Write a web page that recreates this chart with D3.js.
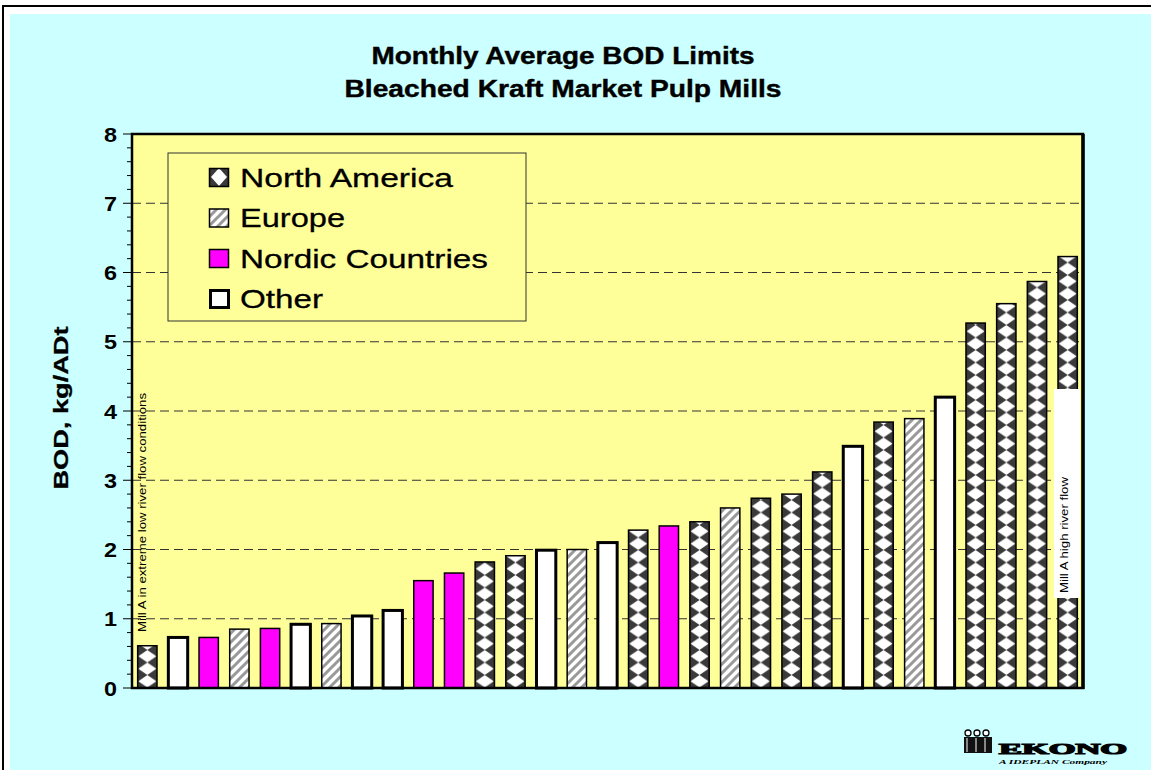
<!DOCTYPE html>
<html><head><meta charset="utf-8">
<script src="https://cdn.jsdelivr.net/npm/d3@7"></script>
<style>body{margin:0;background:#fff;}svg{display:block;font-family:"Liberation Sans",Arial,sans-serif;}</style>
</head><body>
<script>
// ---- data ----
const mills = ["M1","M2","M3","M4","M5","M6","M7","M8","M9","M10","M11","M12","M13","M14","M15","M16","M17","M18","M19","M20","M21","M22","M23","M24","M25","M26","M27","M28","M29","M30","M31"];
const regions = ["NA","Other","Nordic","Europe","Nordic","Other","Europe","Other","Other","Nordic","Nordic","NA","NA","Other","Europe","Other","NA","Nordic","NA","Europe","NA","NA","NA","Other","NA","Europe","Other","NA","NA","NA","NA"];
const bodValues = [0.61,0.73,0.73,0.85,0.86,0.92,0.93,1.04,1.12,1.55,1.66,1.82,1.91,1.99,2.00,2.10,2.28,2.34,2.40,2.60,2.74,2.80,3.12,3.49,3.84,3.89,4.20,5.27,5.55,5.87,6.23];
const legendKeys = ["NA","Europe","Nordic","Other"];
const legendLabels = ["North America","Europe","Nordic Countries","Other"];
const yTicks = [0,1,2,3,4,5,6,7,8];
const titleLines = ["Monthly Average BOD Limits","Bleached Kraft Market Pulp Mills"];
const yTitle = "BOD, kg/ADt";
const noteLow = "Mill A in extreme low river flow conditions";
const noteHigh = "Mill A high river flow";

const W = 1151, H = 770;
const svg = d3.select("body").append("svg").attr("width", W).attr("height", H);
const defs = svg.append("defs");

// background
svg.append("rect").attr("x",0).attr("y",0).attr("width",W).attr("height",H).attr("fill","#fff");
svg.append("rect").attr("x",3).attr("y",6).attr("width",1300).attr("height",1000).attr("fill","#fff").attr("stroke","#000").attr("stroke-width",2);
svg.append("rect").attr("x",10).attr("y",14).attr("width",1300).attr("height",1000).attr("fill","#CCFFFF");

// scales
const x = d3.scaleBand().domain(mills).range([132,1083]).paddingInner(0.37).paddingOuter(0.185);
const y = d3.scaleLinear().domain([0,8]).range([688,134]);
const bw = x.bandwidth(), step = x.step();

// plot area
svg.append("rect").attr("x",132).attr("y",134).attr("width",951).attr("height",554).attr("fill","#FFFF99");

// patterns
function naPattern(id, px, py, w, h, dw){
  const p = defs.append("pattern").attr("id",id).attr("patternUnits","userSpaceOnUse")
    .attr("x",px).attr("y",py).attr("width",w).attr("height",h);
  p.append("rect").attr("width",w).attr("height",h).attr("fill","#3a3a3a");
  const cx = w/2, dh = h/2;
  p.append("path").attr("d",`M${cx},0 L${cx+dw},${dh} L${cx},${h} L${cx-dw},${dh} Z`).attr("fill","#fff");
}
naPattern("naBar", x(mills[0]) + bw/2 - step/2, 0, step, 12.5, 9);
naPattern("naLeg", 209, 168, 20, 18, 8);

function euPattern(id, px, py){
  const p = defs.append("pattern").attr("id",id).attr("patternUnits","userSpaceOnUse")
    .attr("x",px).attr("y",py).attr("width",9).attr("height",9);
  p.append("rect").attr("width",9).attr("height",9).attr("fill","#fff");
  p.append("path").attr("d","M-2,11 L11,-2 M-2,2 L2,-2 M7,11 L11,7").attr("stroke","#999").attr("stroke-width",3);
}
euPattern("euBar",0,0);
euPattern("euLeg",209,208);

const fillOf = {NA:"url(#naBar)", Europe:"url(#euBar)", Nordic:"#FF00FF", Other:"#fff"};
const legFill = {NA:"url(#naLeg)", Europe:"url(#euLeg)", Nordic:"#FF00FF", Other:"#fff"};
const strokeW = {NA:1.5, Europe:1.5, Nordic:1.5, Other:3};

// gridlines
svg.append("g").selectAll("line").data(yTicks.filter(t=>t>0 && t<8)).join("line")
  .attr("x1",132).attr("x2",1083).attr("y1",d=>y(d)).attr("y2",d=>y(d))
  .attr("stroke","#333").attr("stroke-width",1).attr("stroke-dasharray","9,5");

// legend
const leg = svg.append("g");
leg.append("rect").attr("x",168).attr("y",153).attr("width",358).attr("height",168)
  .attr("fill","#FFFF99").attr("stroke","#333").attr("stroke-width",1);
const legTL = [213,105,248,83];
legendKeys.forEach((k,i)=>{
  const top = 168 + i*40.5;
  leg.append("rect").attr("x",k==="Other"?210.5:209.5).attr("y",k==="Other"?top+1:top+0.5)
    .attr("width",k==="Other"?18:19).attr("height",k==="Other"?17:18)
    .attr("fill",legFill[k]).attr("stroke","#000").attr("stroke-width",strokeW[k]);
  leg.append("text").attr("x",240).attr("y",top+18.5).attr("font-size",26.5)
    .attr("stroke","#000").attr("stroke-width",0.3)
    .attr("textLength",legTL[i]).attr("lengthAdjust","spacingAndGlyphs")
    .text(legendLabels[i]);
});

// bars
svg.append("g").selectAll("rect").data(bodValues).join("rect")
  .attr("x",(d,i)=>x(mills[i]))
  .attr("y",d=>y(d))
  .attr("width",bw)
  .attr("height",d=>y(0)-y(d))
  .attr("fill",(d,i)=>fillOf[regions[i]])
  .attr("stroke","#000")
  .attr("stroke-width",(d,i)=>strokeW[regions[i]]);

// plot border
svg.append("rect").attr("x",132).attr("y",134).attr("width",951).attr("height",554)
  .attr("fill","none").attr("stroke","#000").attr("stroke-width",2.5);
svg.append("line").attr("x1",1083).attr("x2",1083).attr("y1",134).attr("y2",689).attr("stroke","#000").attr("stroke-width",3.5);
// y axis ticks
const minor = d3.range(0,40).map(i=>i/5).filter(v=>!Number.isInteger(v));
svg.append("g").selectAll("line").data(minor).join("line")
  .attr("x1",127).attr("x2",132).attr("y1",d=>y(d)).attr("y2",d=>y(d)).attr("stroke","#000").attr("stroke-width",1);
svg.append("g").selectAll("line").data(yTicks).join("line")
  .attr("x1",123).attr("x2",132).attr("y1",d=>y(d)).attr("y2",d=>y(d)).attr("stroke","#000").attr("stroke-width",1);
svg.append("g").selectAll("text").data(yTicks).join("text")
  .attr("x",117).attr("y",d=>y(d)+7.5).attr("text-anchor","end")
  .attr("font-size",20).attr("font-weight","bold")
  .attr("textLength",13).attr("lengthAdjust","spacingAndGlyphs")
  .text(d=>d);

// y title
svg.append("text").attr("transform","translate(68,408) rotate(-90)")
  .attr("text-anchor","middle").attr("font-size",21).attr("font-weight","bold")
  .attr("stroke","#000").attr("stroke-width",0.3)
  .attr("textLength",163).attr("lengthAdjust","spacingAndGlyphs")
  .text(yTitle);

// title
[[64,383],[97,437]].forEach(([by,tl],i)=>{
  svg.append("text").attr("x",563 - tl/2).attr("y",by)
    .attr("font-size",24).attr("font-weight","bold")
    .attr("stroke","#000").attr("stroke-width",0.4)
    .attr("textLength",tl).attr("lengthAdjust","spacingAndGlyphs")
    .text(titleLines[i]);
});

// annotations
svg.append("text").attr("transform","translate(146,632) rotate(-90)")
  .attr("font-size",11).attr("textLength",239).attr("lengthAdjust","spacingAndGlyphs").text(noteLow);
const lastX = x(mills[30]);
svg.append("rect").attr("x",lastX-4).attr("y",389).attr("width",26).attr("height",209).attr("fill","#fff");
svg.append("text").attr("transform",`translate(${lastX+10},593) rotate(-90)`)
  .attr("font-size",11).attr("textLength",116).attr("lengthAdjust","spacingAndGlyphs").text(noteHigh);

// logo
const logo = svg.append("g");
[968,977,986].forEach(cx=>logo.append("circle").attr("cx",cx).attr("cy",733).attr("r",3).attr("fill","#fff").attr("stroke","#000").attr("stroke-width",1.3));
logo.append("rect").attr("x",964).attr("y",737).attr("width",28).attr("height",16).attr("fill","#111");
[970,979,988].forEach(lx=>logo.append("line").attr("x1",lx-3).attr("x2",lx-3).attr("y1",738).attr("y2",752).attr("stroke","#fff").attr("stroke-width",1));
logo.append("text").attr("x",999).attr("y",754).attr("font-family","Liberation Serif, serif").attr("font-weight","bold")
  .attr("font-size",15).attr("stroke","#000").attr("stroke-width",1.2)
  .attr("textLength",128).attr("lengthAdjust","spacingAndGlyphs").text("EKONO");
logo.append("text").attr("x",999).attr("y",764).attr("font-family","Liberation Serif, serif").attr("font-weight","bold").attr("font-style","italic")
  .attr("font-size",7).attr("textLength",108).attr("lengthAdjust","spacingAndGlyphs").text("A IDEPLAN Company");
</script>
</body></html>
